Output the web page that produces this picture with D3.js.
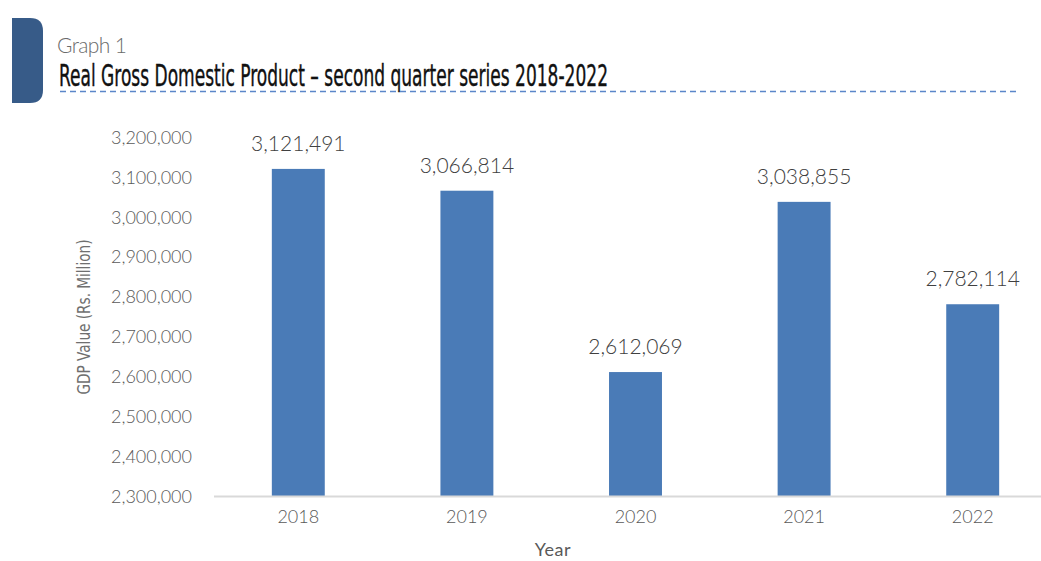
<!DOCTYPE html>
<html>
<head>
<meta charset="utf-8">
<script src="https://cdn.jsdelivr.net/npm/d3@7"></script>
<style>
  body { margin: 0; background: #fff; }
  svg { display: block; }
  text { font-family: Lato, "Open Sans", sans-serif; }
</style>
</head>
<body>
<svg id="chart"></svg>
<script>
// data
var years = ['2018', '2019', '2020', '2021', '2022'];
var gdpValues = [3121491, 3066814, 2612069, 3038855, 2782114];
var yTicks = [2300000, 2400000, 2500000, 2600000, 2700000, 2800000, 2900000, 3000000, 3100000, 3200000];

var graphLabel = 'Graph 1';
var title = 'Real Gross Domestic Product \u2013 second quarter series 2018-2022';
var xTitle = 'Year';
var yTitle = 'GDP Value (Rs. Million)';

// layout
var width = 1041;
var height = 561;
var plot = {left: 214, right: 1057, top: 137.6, bottom: 496.5};

var svg = d3.select('#chart')
  .attr('width', width)
  .attr('height', height);

// scales
var x = d3.scaleBand()
  .domain(years)
  .range([plot.left, plot.right])
  .paddingInner(0.686)
  .paddingOuter(0.343);
var y = d3.scaleLinear()
  .domain([2300000, 3200000])
  .range([plot.bottom, plot.top]);

var fmt = d3.format(',');

// header badge (square left, rounded right)
var bx = 12, by = 18, bw = 31, bh = 85, br = 13;
svg.append('path')
  .attr('d', 'M' + bx + ',' + by +
    'H' + (bx + bw - br) +
    'Q' + (bx + bw) + ',' + by + ' ' + (bx + bw) + ',' + (by + br) +
    'V' + (by + bh - br) +
    'Q' + (bx + bw) + ',' + (by + bh) + ' ' + (bx + bw - br) + ',' + (by + bh) +
    'H' + bx + 'Z')
  .style('fill', '#375b88');

svg.append('text')
  .attr('x', 57)
  .attr('y', 53)
  .attr('textLength', 70)
  .style('font-size', '21px')
  .style('font-weight', 300)
  .style('fill', '#6b6b6b')
  .text(graphLabel);

svg.append('text')
  .attr('x', 59)
  .attr('y', 86)
  .attr('textLength', 549)
  .attr('lengthAdjust', 'spacingAndGlyphs')
  .style('font-family', '"Liberation Sans Narrow", "DejaVu Sans Condensed", sans-serif')
  .style('font-size', '31px')
  .style('fill', '#111')
  .style('stroke', '#111')
  .style('stroke-width', 0.4)
  .text(title);

svg.append('line')
  .attr('x1', 60)
  .attr('x2', 1019)
  .attr('y1', 91.5)
  .attr('y2', 91.5)
  .style('stroke', '#5b87c9')
  .style('stroke-width', 1.3)
  .style('stroke-dasharray', '6,4');

// y axis
var yAxis = svg.append('g')
  .attr('transform', 'translate(' + plot.left + ',0)')
  .call(d3.axisLeft(y).tickValues(yTicks).tickFormat(fmt).tickSize(0).tickPadding(22));
yAxis.select('.domain').remove();
yAxis.selectAll('text')
  .style('font-family', 'Lato, sans-serif')
  .style('font-size', '18px')
  .style('font-weight', 300)
  .style('fill', '#595959');

// bars
svg.selectAll('rect.bar')
  .data(gdpValues)
  .enter()
  .append('rect')
    .classed('bar', true)
    .attr('x', function(d, i) { return x(years[i]); })
    .attr('y', function(d) { return y(d); })
    .attr('width', x.bandwidth())
    .attr('height', function(d) { return plot.bottom - y(d); })
    .style('fill', '#4a7bb7');

// x axis
var xAxis = svg.append('g')
  .attr('transform', 'translate(0,' + plot.bottom + ')')
  .call(d3.axisBottom(x).tickSize(0).tickPadding(14));
xAxis.select('.domain')
  .attr('d', 'M' + plot.left + ',0H' + width)
  .style('stroke', '#d9d9d9')
  .style('stroke-width', 2);
xAxis.selectAll('text')
  .style('font-family', 'Lato, sans-serif')
  .style('font-size', '18px')
  .style('font-weight', 300)
  .style('fill', '#595959');

// value labels
svg.selectAll('text.value')
  .data(gdpValues)
  .enter()
  .append('text')
    .classed('value', true)
    .attr('x', function(d, i) { return x(years[i]) + x.bandwidth() / 2; })
    .attr('y', function(d) { return y(d) - 18; })
    .attr('text-anchor', 'middle')
    .style('font-size', '21px')
    .style('font-weight', 300)
    .style('fill', '#404040')
    .text(function(d) { return fmt(d); });

// axis titles
svg.append('text')
  .attr('x', 553)
  .attr('y', 556)
  .attr('text-anchor', 'middle')
  .style('font-size', '18px')
  .style('letter-spacing', '0.5px')
  .style('fill', '#595959')
  .text(xTitle);

svg.append('text')
  .attr('transform', 'translate(90,317) rotate(-90)')
  .attr('text-anchor', 'middle')
  .attr('textLength', 155)
  .attr('lengthAdjust', 'spacingAndGlyphs')
  .style('font-family', '"Liberation Sans Narrow", "DejaVu Sans Condensed", sans-serif')
  .style('font-size', '18px')
  .style('fill', '#6f6f6f')
  .text(yTitle);
</script>
</body>
</html>
